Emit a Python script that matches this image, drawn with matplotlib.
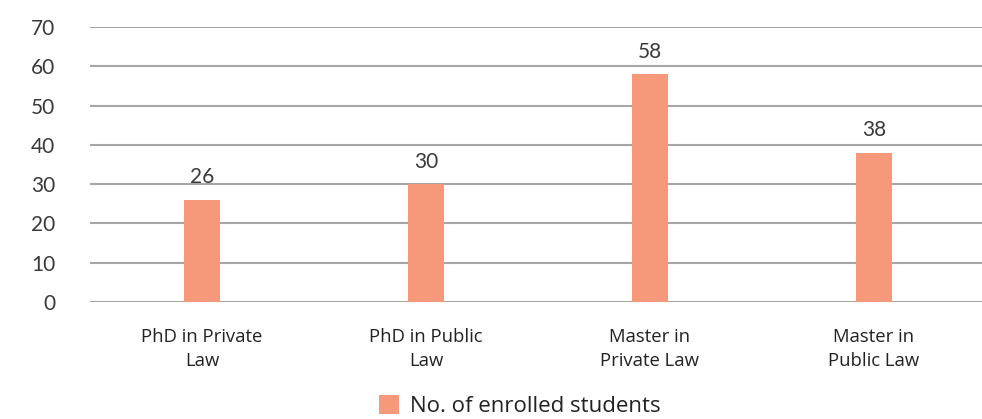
import matplotlib
matplotlib.use("Agg")
import matplotlib.pyplot as plt
from matplotlib.patches import Patch

categories = ["PhD in Private\nLaw", "PhD in Public\nLaw", "Master in\nPrivate Law", "Master in\nPublic Law"]
values = [26, 30, 58, 38]
yticks = [0, 10, 20, 30, 40, 50, 60, 70]
series_name = "No. of enrolled students"

bar_color = "#F6997B"
grid_color = "#A6A6A6"
text_color = "#3A3A3A"

fig = plt.figure(figsize=(9.82, 4.19), dpi=100)
ax = fig.add_axes([90/982, 1 - 302/419, 896/982, (302-27)/419])

x = list(range(len(categories)))
bars = ax.bar(x, values, width=0.163, color=bar_color, zorder=3)
ax.set_xlim(-0.5, len(categories) - 0.5)
ax.set_ylim(0, 70)
ax.set_yticks(yticks)
ax.set_yticklabels([str(t) for t in yticks], fontsize=15, family="Lato", color=text_color)
ax.set_xticks(x)
ax.set_xticklabels(categories, fontsize=13.3, family="Open Sans", color="#222222", linespacing=1.4)
ax.tick_params(axis="both", length=0)
ax.tick_params(axis="y", pad=25)
ax.tick_params(axis="x", pad=19)
for s in ax.spines.values():
    s.set_visible(False)
ax.grid(axis="y", color=grid_color, linewidth=1.5, zorder=0)

for b, v in zip(bars, values):
    ax.annotate(str(v), (b.get_x() + b.get_width() / 2, v), xytext=(0, 9), textcoords="offset points",
                ha="center", va="bottom", fontsize=15, family="Lato", color=text_color)

handle = Patch(facecolor=bar_color, edgecolor="none")
fig.legend([handle], [series_name], loc="center", bbox_to_anchor=(520/982, 1 - 406/419),
           frameon=False, prop={"family": "Open Sans", "size": 16}, handlelength=0.9, handleheight=0.9,
           handletextpad=0.5, labelcolor="#222222")

fig.savefig("out.png", dpi=100)
